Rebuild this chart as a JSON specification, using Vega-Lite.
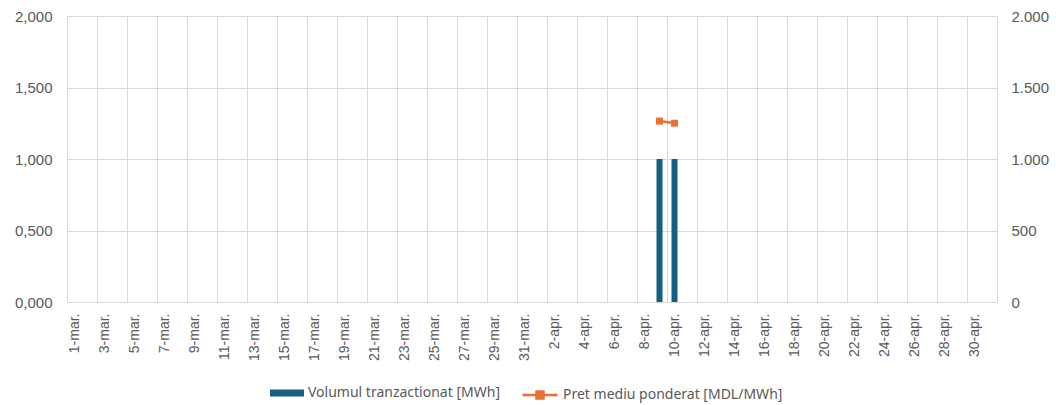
{
  "$schema": "https://vega.github.io/schema/vega-lite/v6.json",
  "width": 930,
  "height": 286,
  "autosize": {"type": "none"},
  "padding": {"left": 67, "top": 16, "right": 59, "bottom": 103},
  "background": "white",
  "config": {
    "view": {"stroke": "#d9d9d9", "strokeWidth": 1},
    "axis": {"labelFont": "Liberation Sans", "labelFontSize": 15, "labelColor": "#595959", "ticks": false, "domain": false, "gridColor": "#d9d9d9", "title": null},
    "legend": {"labelFont": "Noto Sans", "labelFontSize": 14, "labelColor": "#595959", "labelLimit": 0, "title": null, "orient": "none"}
  },
  "data": {"values": [
    {"d": "1-mar.", "vol": 0, "price": null},
    {"d": "2-mar.", "vol": 0, "price": null},
    {"d": "3-mar.", "vol": 0, "price": null},
    {"d": "4-mar.", "vol": 0, "price": null},
    {"d": "5-mar.", "vol": 0, "price": null},
    {"d": "6-mar.", "vol": 0, "price": null},
    {"d": "7-mar.", "vol": 0, "price": null},
    {"d": "8-mar.", "vol": 0, "price": null},
    {"d": "9-mar.", "vol": 0, "price": null},
    {"d": "10-mar.", "vol": 0, "price": null},
    {"d": "11-mar.", "vol": 0, "price": null},
    {"d": "12-mar.", "vol": 0, "price": null},
    {"d": "13-mar.", "vol": 0, "price": null},
    {"d": "14-mar.", "vol": 0, "price": null},
    {"d": "15-mar.", "vol": 0, "price": null},
    {"d": "16-mar.", "vol": 0, "price": null},
    {"d": "17-mar.", "vol": 0, "price": null},
    {"d": "18-mar.", "vol": 0, "price": null},
    {"d": "19-mar.", "vol": 0, "price": null},
    {"d": "20-mar.", "vol": 0, "price": null},
    {"d": "21-mar.", "vol": 0, "price": null},
    {"d": "22-mar.", "vol": 0, "price": null},
    {"d": "23-mar.", "vol": 0, "price": null},
    {"d": "24-mar.", "vol": 0, "price": null},
    {"d": "25-mar.", "vol": 0, "price": null},
    {"d": "26-mar.", "vol": 0, "price": null},
    {"d": "27-mar.", "vol": 0, "price": null},
    {"d": "28-mar.", "vol": 0, "price": null},
    {"d": "29-mar.", "vol": 0, "price": null},
    {"d": "30-mar.", "vol": 0, "price": null},
    {"d": "31-mar.", "vol": 0, "price": null},
    {"d": "1-apr.", "vol": 0, "price": null},
    {"d": "2-apr.", "vol": 0, "price": null},
    {"d": "3-apr.", "vol": 0, "price": null},
    {"d": "4-apr.", "vol": 0, "price": null},
    {"d": "5-apr.", "vol": 0, "price": null},
    {"d": "6-apr.", "vol": 0, "price": null},
    {"d": "7-apr.", "vol": 0, "price": null},
    {"d": "8-apr.", "vol": 0, "price": null},
    {"d": "9-apr.", "vol": 1, "price": 1265},
    {"d": "10-apr.", "vol": 1, "price": 1250},
    {"d": "11-apr.", "vol": 0, "price": null},
    {"d": "12-apr.", "vol": 0, "price": null},
    {"d": "13-apr.", "vol": 0, "price": null},
    {"d": "14-apr.", "vol": 0, "price": null},
    {"d": "15-apr.", "vol": 0, "price": null},
    {"d": "16-apr.", "vol": 0, "price": null},
    {"d": "17-apr.", "vol": 0, "price": null},
    {"d": "18-apr.", "vol": 0, "price": null},
    {"d": "19-apr.", "vol": 0, "price": null},
    {"d": "20-apr.", "vol": 0, "price": null},
    {"d": "21-apr.", "vol": 0, "price": null},
    {"d": "22-apr.", "vol": 0, "price": null},
    {"d": "23-apr.", "vol": 0, "price": null},
    {"d": "24-apr.", "vol": 0, "price": null},
    {"d": "25-apr.", "vol": 0, "price": null},
    {"d": "26-apr.", "vol": 0, "price": null},
    {"d": "27-apr.", "vol": 0, "price": null},
    {"d": "28-apr.", "vol": 0, "price": null},
    {"d": "29-apr.", "vol": 0, "price": null},
    {"d": "30-apr.", "vol": 0, "price": null},
    {"d": "1-may", "vol": 0, "price": null}
  ]},
  "layer": [
    {
      "mark": {"type": "bar", "width": {"band": 0.4}},
      "encoding": {
        "x": {"field": "d", "type": "ordinal", "sort": null,
          "scale": {"paddingInner": 0, "paddingOuter": 0},
          "axis": {"orient": "bottom", "labelAngle": 270, "labelPadding": 11, "labelFontSize": 14, "grid": false,
            "values": ["1-mar.","3-mar.","5-mar.","7-mar.","9-mar.","11-mar.","13-mar.","15-mar.","17-mar.","19-mar.","21-mar.","23-mar.","25-mar.","27-mar.","29-mar.","31-mar.","2-apr.","4-apr.","6-apr.","8-apr.","10-apr.","12-apr.","14-apr.","16-apr.","18-apr.","20-apr.","22-apr.","24-apr.","26-apr.","28-apr.","30-apr."]}},
        "y": {"field": "vol", "type": "quantitative",
          "scale": {"domain": [0, 2]},
          "axis": {"orient": "left", "values": [0, 0.5, 1, 1.5, 2], "labelPadding": 15, "grid": true,
            "labelExpr": "replace(format(datum.value, '.3f'), '.', ',')"}},
        "fill": {"datum": "Volumul tranzactionat [MWh]", "type": "nominal",
          "scale": {"range": ["#156082"]},
          "legend": {"symbolType": "M-1,-0.2H1V0.2H-1Z", "symbolSize": 1156, "symbolStrokeWidth": 0, "legendX": 203, "legendY": 360}}
      }
    },
    {
      "transform": [{"filter": "datum.price != null"}],
      "layer": [
        {
          "mark": {"type": "line", "strokeWidth": 2.5},
          "encoding": {
            "x": {"field": "d", "type": "ordinal", "sort": null,
              "axis": {"orient": "top", "labels": false, "grid": true, "bandPosition": 0,
                "values": ["1-mar.","3-mar.","5-mar.","7-mar.","9-mar.","11-mar.","13-mar.","15-mar.","17-mar.","19-mar.","21-mar.","23-mar.","25-mar.","27-mar.","29-mar.","31-mar.","2-apr.","4-apr.","6-apr.","8-apr.","10-apr.","12-apr.","14-apr.","16-apr.","18-apr.","20-apr.","22-apr.","24-apr.","26-apr.","28-apr.","30-apr."]}},
            "y": {"field": "price", "type": "quantitative",
              "scale": {"domain": [0, 2000]},
              "axis": {"orient": "right", "values": [0, 500, 1000, 1500, 2000], "labelPadding": 14, "grid": false,
                "labelExpr": "replace(format(datum.value, ','), ',', '.')"}},
            "stroke": {"datum": "Pret mediu ponderat [MDL/MWh]", "type": "nominal",
              "scale": {"range": ["#E97132"]},
              "legend": {"symbolType": "M-1,0H1M-0.2,-0.2H0.2V0.2H-0.2Z", "symbolSize": 1225, "symbolStrokeWidth": 2.5, "symbolFillColor": "#E97132", "legendX": 454, "legendY": 360}}
          }
        },
        {
          "mark": {"type": "point", "shape": "square", "filled": true, "size": 49, "color": "#E97132", "opacity": 1},
          "encoding": {
            "x": {"field": "d", "type": "ordinal", "sort": null},
            "y": {"field": "price", "type": "quantitative"}
          }
        }
      ]
    }
  ],
  "resolve": {"scale": {"y": "independent"}, "axis": {"x": "independent"}}
}
